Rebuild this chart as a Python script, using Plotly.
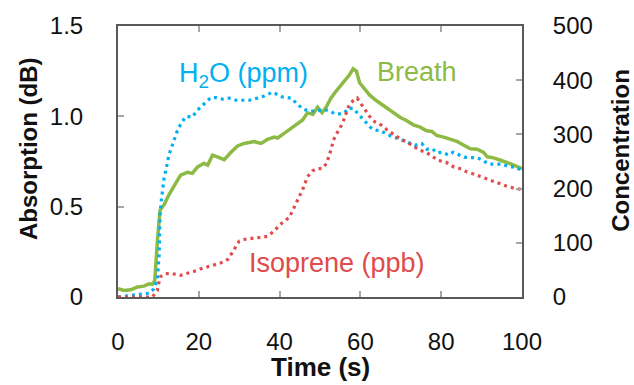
import plotly.graph_objects as go

# Breath absorption signal (dB) versus time (s)
breath_t = [0, 1.5, 3.1, 4.8, 6.4, 7.7, 8.5, 9.1, 9.75, 10.4, 11.4, 12.6, 14.3, 15.5, 17.2,
            18.4, 19.7, 21.3, 22.2, 23.4, 24.6, 26.3, 27.9, 29.6, 31.2, 33.7, 35.4, 37.0,
            38.7, 39.5, 41.2, 42.8, 44.5, 45.7, 46.9, 48.2, 49.4, 50.5, 51.5, 52.7, 54.0,
            55.7, 57.3, 58.2, 59.0, 59.8, 61.1, 62.3, 64.0, 65.2, 66.5, 68.1, 69.8, 71.5,
            73.1, 74.8, 76.4, 77.7, 78.9, 80.6, 82.2, 83.9, 85.6, 87.2, 88.9, 90.5, 91.4,
            93.0, 94.7, 96.3, 98.0, 100]
breath_db = [0.046, 0.036, 0.04, 0.055, 0.06, 0.073, 0.07, 0.09, 0.31, 0.48, 0.51, 0.566,
             0.63, 0.675, 0.69, 0.684, 0.72, 0.74, 0.73, 0.785, 0.776, 0.76, 0.80, 0.836,
             0.85, 0.86, 0.85, 0.872, 0.885, 0.88, 0.907, 0.934, 0.963, 0.98, 1.02, 1.01,
             1.05, 1.02, 1.05, 1.10, 1.14, 1.186, 1.23, 1.263, 1.25, 1.186, 1.146, 1.117,
             1.086, 1.067, 1.044, 1.022, 0.995, 0.976, 0.953, 0.94, 0.92, 0.916, 0.894,
             0.885, 0.872, 0.861, 0.84, 0.82, 0.818, 0.80, 0.776, 0.77, 0.757, 0.745,
             0.73, 0.71]

# Water vapour concentration (ppm)
h2o_t = [0, 5.6, 7.7, 8.9, 9.75, 10.2, 10.4, 10.7, 11.0, 11.4, 12.1, 12.6, 13.3, 13.9,
         14.7, 15.5, 16.8, 18.4, 19.7, 21.7, 23.0, 24.2, 25.9, 27.5, 29.2, 30.8, 32.5,
         34.5, 36.2, 38.3, 39.5, 40.7, 42.8, 44.0, 45.7, 47.4, 49.0, 51.1, 52.8, 53.6,
         54.9, 56.1, 56.9, 58.2, 59.2, 60.2, 61.3, 62.5, 63.6, 64.8, 66.5, 68.0, 69.1,
         70.5, 71.9, 73.5, 75.2, 76.4, 77.9, 78.9, 80.2, 81.8, 82.9, 84.1, 85.7, 87.4,
         89.0, 90.7, 92.0, 93.4, 95.0, 96.9, 98.3, 100]
h2o_ppm = [0, 5, 7, 15, 33, 80, 152, 177, 193, 219, 243, 262, 277, 292, 307, 319, 333,
           332, 345, 359, 368, 368, 365, 367, 363, 363, 363, 367, 371, 378, 373, 369, 367,
           359, 347, 343, 343, 346, 342, 338, 338, 340, 348, 348, 340, 332, 322, 313, 308,
           307, 301, 295, 293, 289, 286, 280, 283, 273, 273, 266, 267, 262, 267, 263, 258,
           257, 257, 250, 245, 245, 245, 240, 240, 233]

# Isoprene concentration (ppb)
iso_t = [0, 8.5, 9.75, 10.4, 11.8, 13.5, 15.4, 17.0, 18.7, 20.5, 22.1, 23.8, 25.5, 27.3,
         28.8, 30.0, 31.7, 33.3, 35.4, 37.0, 38.7, 40.0, 41.2, 42.4, 43.2, 44.0, 44.9,
         45.7, 46.9, 48.2, 49.4, 50.5, 51.7, 52.2, 52.8, 53.2, 54.0, 54.9, 55.7, 56.9,
         57.3, 58.2, 59.2, 60.2, 61.3, 62.3, 63.6, 65.2, 66.5, 68.1, 69.8, 71.5, 73.1,
         74.6, 76.3, 77.7, 79.3, 81.3, 83.1, 84.6, 86.3, 88.0, 89.7, 91.4, 93.0, 94.9,
         96.8, 98.4, 100]
iso_ppb = [0, 0, 12, 37, 43, 43, 40, 43, 47, 52, 56, 60, 63, 70, 88, 103, 107, 108, 110,
           112, 122, 133, 140, 147, 159, 173, 186, 198, 222, 233, 237, 237, 247, 260, 273,
           287, 300, 311, 323, 348, 356, 362, 367, 356, 345, 333, 323, 317, 309, 301, 292,
           286, 279, 271, 267, 260, 252, 248, 240, 237, 231, 227, 222, 217, 213, 208, 203,
           200, 198]

x_ticks = [0, 20, 40, 60, 80, 100]
left_ticks = [0, 0.5, 1.0, 1.5]
left_text = ["0", "0.5", "1.0", "1.5"]
right_ticks = [0, 100, 200, 300, 400, 500]

GREEN = "#8DBA45"
BLUE = "#00B0F0"
RED = "#E04B4B"
FONT = "Arial, Liberation Sans, sans-serif"
AXIS = "#595959"
TICK = "#A6A6A6"

fig = go.Figure()
fig.add_trace(go.Scatter(x=h2o_t, y=h2o_ppm, mode="lines", yaxis="y2",
                         line=dict(color=BLUE, width=3.2, dash="3px,4px"),
                         showlegend=False))
fig.add_trace(go.Scatter(x=iso_t, y=iso_ppb, mode="lines", yaxis="y2",
                         line=dict(color=RED, width=3.2, dash="3px,4px"),
                         showlegend=False))
fig.add_trace(go.Scatter(x=breath_t, y=breath_db, mode="lines", yaxis="y",
                         line=dict(color=GREEN, width=3.5),
                         showlegend=False))

tickfont = dict(family=FONT, size=24, color="#111111")
fig.update_layout(
    width=634, height=385,
    margin=dict(l=118, r=112, t=23, b=88),
    plot_bgcolor="white", paper_bgcolor="white",
    font=dict(family=FONT),
    xaxis=dict(range=[0, 100], tickvals=x_ticks, ticks="inside", ticklen=6,
               tickcolor=TICK, tickwidth=1.5, showline=True, linecolor=AXIS,
               linewidth=2, mirror="ticks", showgrid=False, zeroline=False,
               tickfont=tickfont, ticklabelstandoff=22),
    yaxis=dict(range=[0, 1.5], tickvals=left_ticks, ticktext=left_text,
               ticks="inside", ticklen=6, tickcolor=TICK, tickwidth=1.5,
               showline=True, linecolor=AXIS, linewidth=2, showgrid=False,
               zeroline=False, tickfont=tickfont, ticklabelstandoff=28),
    yaxis2=dict(range=[0, 500], tickvals=right_ticks, overlaying="y", side="right",
                ticks="inside", ticklen=6, tickcolor=TICK, tickwidth=1.5,
                showline=True, linecolor=AXIS, linewidth=2, showgrid=False,
                zeroline=False, tickfont=tickfont, ticklabelstandoff=24),
)

title_font = dict(family=FONT, size=24, color="#111111")
label_font = 27
fig.add_annotation(text="<b>Time (s)</b>", xref="paper", yref="paper",
                   x=0.5, y=-0.258, xanchor="center", yanchor="middle",
                   showarrow=False, font=dict(family=FONT, size=26, color="#111111"))
fig.add_annotation(text="<b>Absorption (dB)</b>", xref="paper", yref="paper",
                   x=-0.222, y=0.547, xanchor="center", yanchor="middle",
                   textangle=-90, showarrow=False, font=title_font)
fig.add_annotation(text="<b>Concentration</b>", xref="paper", yref="paper",
                   x=1.243, y=0.54, xanchor="center", yanchor="middle",
                   textangle=-90, showarrow=False, font=title_font)

fig.add_annotation(text="H<sub>2</sub>O (ppm)", xref="x", yref="y", x=31, y=1.23,
                   xanchor="center", yanchor="middle",
                   showarrow=False, font=dict(family=FONT, size=label_font, color=BLUE))
fig.add_annotation(text="Breath", xref="x", yref="y", x=73.9, y=1.245,
                   xanchor="center", yanchor="middle",
                   showarrow=False, font=dict(family=FONT, size=label_font, color=GREEN))
fig.add_annotation(text="Isoprene (ppb)", xref="x", yref="y", x=54.3, y=0.19,
                   xanchor="center", yanchor="middle",
                   showarrow=False, font=dict(family=FONT, size=label_font, color=RED))

fig.write_html("out.html")
